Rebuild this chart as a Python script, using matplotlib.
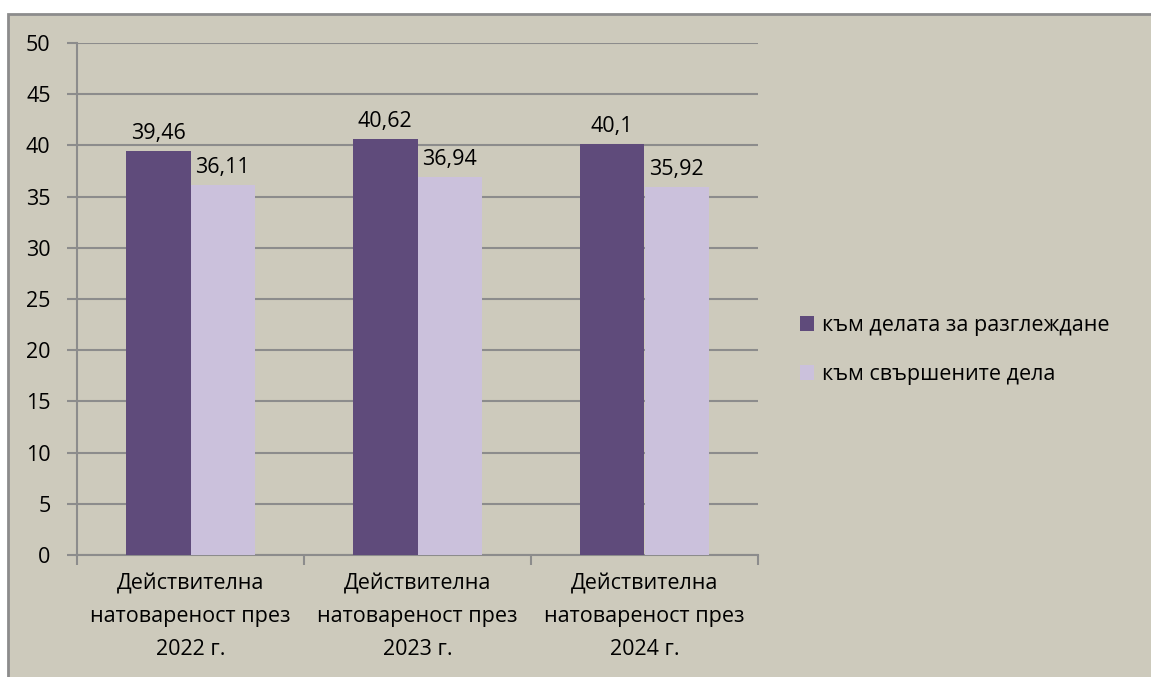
import matplotlib.pyplot as plt
import numpy as np
from matplotlib.patches import Rectangle

plt.rcParams['font.family'] = ['Open Sans', 'DejaVu Sans']

categories = ['Действителна\nнатовареност през\n2022 г.',
              'Действителна\nнатовареност през\n2023 г.',
              'Действителна\nнатовареност през\n2024 г.']
series_names = ['към делата за разглеждане', 'към свършените дела']
to_review = [39.46, 40.62, 40.1]
completed = [36.11, 36.94, 35.92]
labels_review = ['39,46', '40,62', '40,1']
labels_completed = ['36,11', '36,94', '35,92']

bg = '#cdcabc'
grid_c = '#8c8c8c'
dark = '#5f4b7b'
light = '#cbc1dc'
fs = 15.5

W, H = 1151, 677
fig = plt.figure(figsize=(W / 100, H / 100), dpi=100)
fig.patch.set_facecolor('white')
fig.patches.append(Rectangle((8 / W, -0.05), 1.0, 1.05 - 14 / H, transform=fig.transFigure,
                             facecolor=bg, edgecolor=grid_c, linewidth=2, zorder=-5))

ax = fig.add_axes([77 / W, 1 - 555 / H, (758 - 77) / W, (555 - 43) / H])
ax.patch.set_alpha(0)

x = np.arange(len(categories))
bw = 0.285
b1 = ax.bar(x - bw / 2, to_review, bw, color=dark, label=series_names[0], zorder=3)
b2 = ax.bar(x + bw / 2, completed, bw, color=light, label=series_names[1], zorder=3)
ax.bar_label(b1, labels=labels_review, padding=5, fontsize=fs)
ax.bar_label(b2, labels=labels_completed, padding=5, fontsize=fs)

ax.set_ylim(0, 50)
ax.set_yticks(np.arange(0, 51, 5))
ax.set_xlim(-0.5, 2.5)
ax.yaxis.grid(True, color=grid_c, linewidth=1.5, zorder=0)
ax.set_axisbelow(True)
for s in ['top', 'right']:
    ax.spines[s].set_visible(False)
for s in ['left', 'bottom']:
    ax.spines[s].set_color(grid_c)
    ax.spines[s].set_linewidth(1.5)

ax.set_xticks(x)
ax.set_xticklabels(categories, fontsize=fs, linespacing=1.75)
ax.tick_params(axis='x', length=0, pad=13)
ax.set_xticks([-0.5, 0.5, 1.5, 2.5], minor=True)
ax.tick_params(axis='x', which='minor', length=7, width=1.5, color=grid_c)
ax.tick_params(axis='y', length=7, width=1.5, color=grid_c, labelsize=fs, pad=12)

ax.legend(loc='center left', bbox_to_anchor=(1.033, 0.40), frameon=False, fontsize=fs,
          handlelength=0.65, handleheight=0.65, handletextpad=0.4, labelspacing=1.3)

fig.savefig('out.png', dpi=100, facecolor=fig.get_facecolor())
